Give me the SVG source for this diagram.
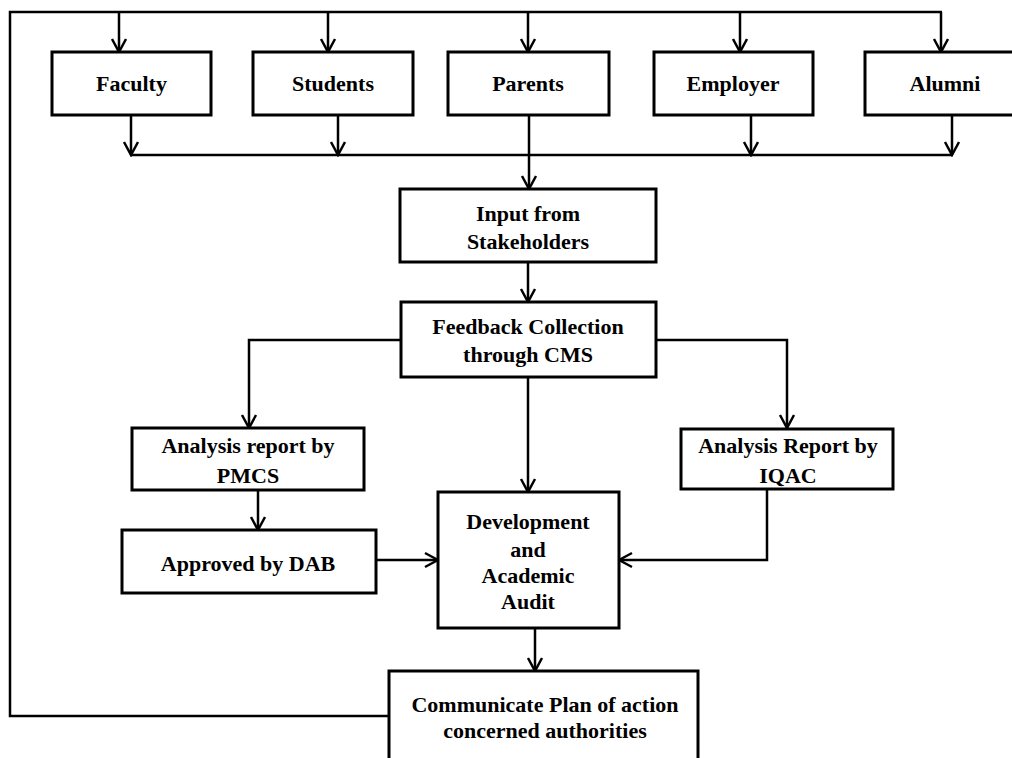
<svg xmlns="http://www.w3.org/2000/svg" width="1012" height="758" viewBox="0 0 1012 758">
<style>
.box{fill:#fff;stroke:#000;stroke-width:3}
.c{fill:none;stroke:#000;stroke-width:2.5}
.a{marker-end:url(#ah)}
text{font-family:"Liberation Serif","Times New Roman",serif;font-weight:bold;font-size:22px;fill:#000;text-anchor:middle}
</style>
<defs>
<marker id="ah" markerUnits="userSpaceOnUse" markerWidth="16" markerHeight="18" viewBox="0 0 16 18" refX="14" refY="9" orient="auto">
<path d="M1,2 L14,9 L1,16" fill="none" stroke="#000" stroke-width="2.5"/>
</marker>
</defs>
<rect width="1012" height="758" fill="#fff"/>
<g id="connectors">
<path class="c" d="M389,716 L10,716 L10,12 L942,12"/>
<path class="c a" d="M119,12 L119,52"/>
<path class="c a" d="M328,12 L328,52"/>
<path class="c a" d="M528,12 L528,52"/>
<path class="c a" d="M740,12 L740,52"/>
<path class="c a" d="M941,12 L941,52"/>
<path class="c" d="M131,155 L952,155"/>
<path class="c a" d="M131,115 L131,155"/>
<path class="c a" d="M338,115 L338,155"/>
<path class="c a" d="M751,115 L751,155"/>
<path class="c a" d="M952,115 L952,155"/>
<path class="c a" d="M529,115 L529,189"/>
<path class="c a" d="M528,262 L528,302"/>
<path class="c a" d="M401,340 L249,340 L249,428"/>
<path class="c a" d="M656,340 L787,340 L787,428"/>
<path class="c a" d="M528,377 L528,492"/>
<path class="c a" d="M258,490 L258,530"/>
<path class="c a" d="M376,560 L438,560"/>
<path class="c a" d="M767,489 L767,560 L619,560"/>
<path class="c a" d="M535,628 L535,671"/>
</g>
<g id="faculty"><rect class="box" x="52" y="52" width="159" height="63"/><text x="131.5" y="91">Faculty</text></g>
<g id="students"><rect class="box" x="253" y="52" width="160" height="63"/><text x="333" y="91">Students</text></g>
<g id="parents"><rect class="box" x="448" y="52" width="161" height="63"/><text x="528" y="91">Parents</text></g>
<g id="employer"><rect class="box" x="654" y="52" width="159" height="63"/><text x="733" y="91">Employer</text></g>
<g id="alumni"><rect class="box" x="865" y="52" width="160" height="63"/><text x="945" y="91">Alumni</text></g>
<g id="input"><rect class="box" x="400" y="189" width="256" height="73"/><text x="528" y="221">Input from</text><text x="528" y="249">Stakeholders</text></g>
<g id="feedback"><rect class="box" x="401" y="302" width="255" height="75"/><text x="528" y="334">Feedback Collection</text><text x="528" y="362">through CMS</text></g>
<g id="pmcs"><rect class="box" x="132" y="428" width="232" height="62"/><text x="248" y="453">Analysis report by</text><text x="248" y="483">PMCS</text></g>
<g id="iqac"><rect class="box" x="681" y="429" width="212" height="60"/><text x="788" y="453">Analysis Report by</text><text x="788" y="483">IQAC</text></g>
<g id="dab"><rect class="box" x="122" y="530" width="254" height="63"/><text x="248" y="571">Approved by DAB</text></g>
<g id="audit"><rect class="box" x="438" y="492" width="181" height="136"/><text x="528" y="529">Development</text><text x="528" y="557">and</text><text x="528" y="583">Academic</text><text x="528" y="609">Audit</text></g>
<g id="communicate"><rect class="box" x="389" y="671" width="309" height="100"/><text x="545" y="712">Communicate Plan of action</text><text x="545" y="738">concerned authorities</text></g>
</svg>
